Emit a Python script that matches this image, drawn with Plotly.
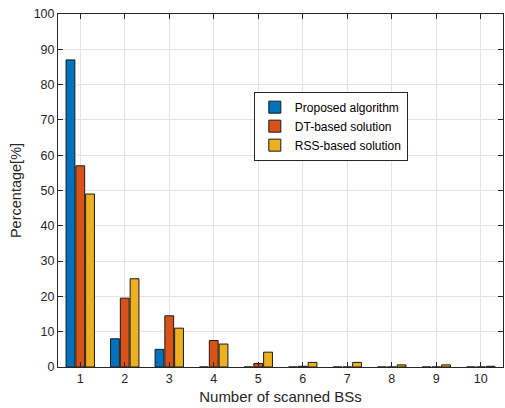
import plotly.graph_objects as go

categories = [1, 2, 3, 4, 5, 6, 7, 8, 9, 10]
proposed = [87, 8, 5, 0, 0, 0, 0, 0, 0, 0]
dt_based = [57, 19.5, 14.5, 7.5, 1.0, 0.2, 0, 0, 0, 0]
rss_based = [49, 25, 11, 6.5, 4.2, 1.3, 1.3, 0.6, 0.6, 0.2]
y_ticks = list(range(0, 101, 10))

series = [
    ("Proposed algorithm", proposed, "#0072BD"),
    ("DT-based solution", dt_based, "#D95319"),
    ("RSS-based solution", rss_based, "#EDB120"),
]

fig = go.Figure()
for name, vals, color in series:
    fig.add_trace(go.Bar(
        x=categories, y=vals, name=name,
        marker=dict(color=color, line=dict(color="#1a1a1a", width=1)),
    ))

font = "Liberation Sans, Arial, Helvetica, sans-serif"
axis_common = dict(
    showline=True, linecolor="#262626", linewidth=1, mirror="ticks",
    ticks="inside", ticklen=5, tickcolor="#262626",
    showgrid=True, gridcolor="#e3e3e3", gridwidth=1,
    zeroline=False, tickfont=dict(size=12.5, color="#262626", family=font),
)

fig.update_layout(
    width=505, height=408,
    margin=dict(l=58, r=2, t=14, b=41),
    paper_bgcolor="white", plot_bgcolor="white",
    barmode="group", bargap=0.34, bargroupgap=0.1,
    font=dict(family=font, color="#262626"),
    showlegend=True,
    legend=dict(
        x=0.44, y=0.78, xanchor="left", yanchor="top",
        bordercolor="#262626", borderwidth=1, bgcolor="white",
        font=dict(size=12, color="#000000", family=font),
        tracegroupgap=0, itemwidth=30,
    ),
    xaxis=dict(range=[0.5, 10.5], tickvals=categories,
               title=dict(text="Number of scanned BSs", font=dict(size=15, family=font, color="#262626"), standoff=6),
               **axis_common),
    yaxis=dict(range=[0, 100], tickvals=y_ticks,
               title=dict(text="Percentage[%]", font=dict(size=14.5, family=font, color="#262626"), standoff=8),
               **axis_common),
)

fig.write_html("out.html")
